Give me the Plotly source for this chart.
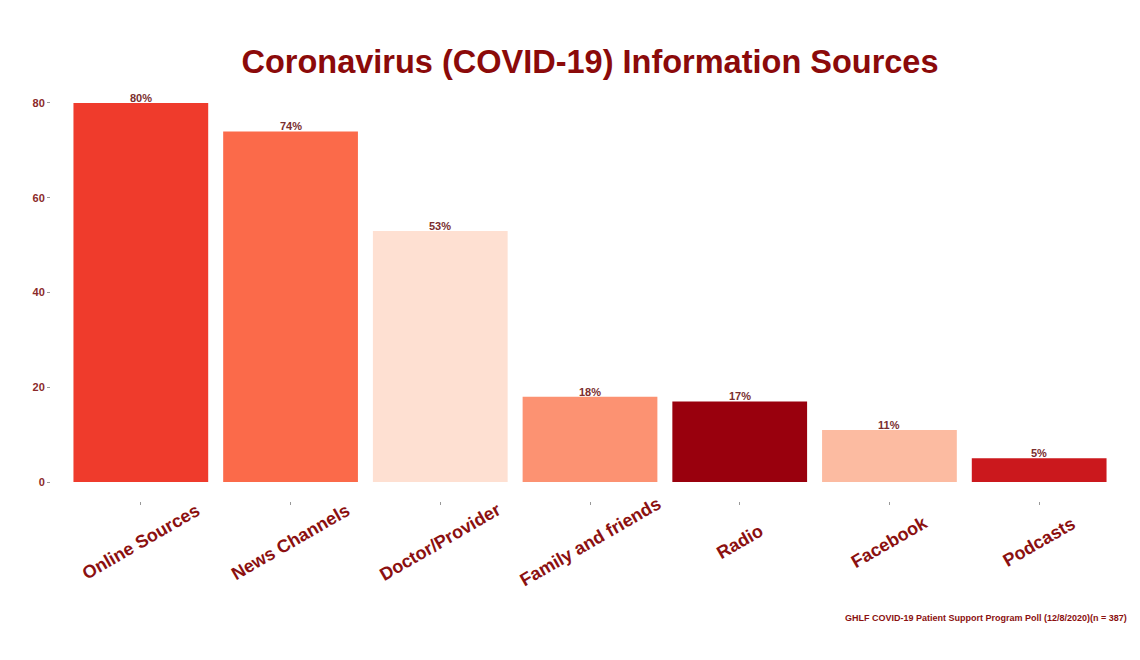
import plotly.graph_objects as go

categories = ["Online Sources", "News Channels", "Doctor/Provider", "Family and friends",
              "Radio", "Facebook", "Podcasts"]
values = [80, 74, 53, 18, 17, 11, 5]
value_labels = ["80%", "74%", "53%", "18%", "17%", "11%", "5%"]
bar_colors = ["#EF3B2C", "#FB6A4A", "#FEE0D2", "#FC9272", "#99000D", "#FCBBA1", "#CB181D"]
y_ticks = [0, 20, 40, 60, 80]

W, H = 1140, 660
ml, mr, mt, mb = 51, 11, 84, 159
plot_h = H - mt - mb

fig = go.Figure()
fig.add_trace(go.Bar(
    x=list(range(len(categories))), y=values,
    marker=dict(color=bar_colors, line=dict(width=0)),
    width=0.9, hoverinfo="skip", showlegend=False,
))

annotations = []
for i, (v, lab) in enumerate(zip(values, value_labels)):
    annotations.append(dict(
        x=i, y=v, xref="x", yref="y", text=f"<b>{lab}</b>", showarrow=False,
        xanchor="center", yanchor="bottom", yshift=-3,
        font=dict(family="Liberation Sans, Arial", size=11, color="#7A2E2E"),
    ))
for i, cat in enumerate(categories):
    annotations.append(dict(
        x=i, y=-41 / plot_h, xref="x", yref="paper", text=f"<b>{cat}</b>",
        showarrow=False, textangle=-30, xanchor="center", yanchor="middle",
        font=dict(family="Liberation Sans, Arial", size=18, color="#8B1010"),
    ))
annotations.append(dict(
    x=1, y=-117 / plot_h, xref="paper", yref="paper",
    text="<b>GHLF COVID-19 Patient Support Program Poll (12/8/2020)(n = 387)</b>",
    showarrow=False, xanchor="right", yanchor="middle",
    font=dict(family="Liberation Sans, Arial", size=9, color="#8B1010"),
))

fig.update_layout(
    width=W, height=H,
    margin=dict(l=ml, r=mr, t=mt, b=mb),
    paper_bgcolor="white", plot_bgcolor="white",
    title=dict(
        text="<b>Coronavirus (COVID-19) Information Sources</b>",
        x=0.5, xref="paper", xanchor="center", y=1 - 62 / H, yanchor="middle",
        font=dict(family="Liberation Sans, Arial", size=32.5, color="#8B0A0A"),
    ),
    xaxis=dict(
        range=[-0.6, 6.6], tickmode="array", tickvals=list(range(len(categories))),
        showticklabels=False, ticks="outside", ticklen=3, tickcolor="#999999",
        showgrid=False, zeroline=False, showline=False, fixedrange=True,
    ),
    yaxis=dict(
        range=[-4, 84], tickmode="array", tickvals=y_ticks,
        ticktext=[str(t) for t in y_ticks],
        ticks="outside", ticklen=3, tickcolor="#999999",
        tickfont=dict(family="Liberation Sans, Arial", size=11, color="#8B2A2A", weight="bold"),
        showgrid=False, zeroline=False, showline=False, fixedrange=True,
    ),
    annotations=annotations,
    bargap=0.1,
)

fig.write_html("out.html")
